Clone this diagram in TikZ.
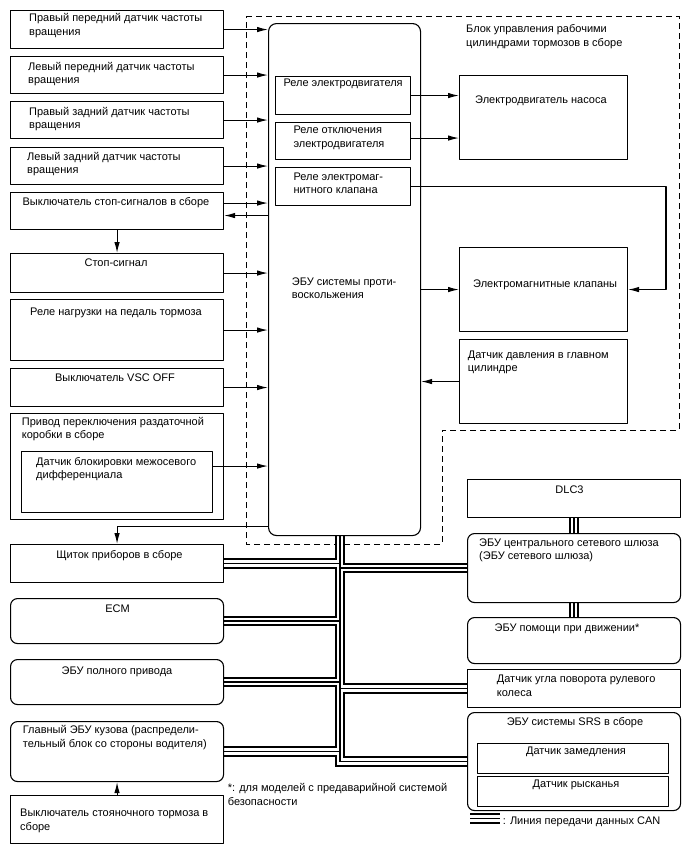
\documentclass[tikz,border=0pt]{standalone}
\usepackage{fontspec}
\setmainfont{Liberation Sans}
\usetikzlibrary{arrows.meta,backgrounds}
\tikzset{
  blk/.style={draw, line width=1.1pt, anchor=north west, inner sep=0pt, minimum width=213pt},
  rblk/.style={blk, rounded corners=7pt},
  lt/.style={anchor=base west, align=left, inner sep=0pt},
  ct/.style={anchor=base, align=center, inner sep=0pt},
  arr/.style={->, line width=1.1pt}
}
\begin{document}
\begin{tikzpicture}[x=1pt, y=-1pt, font=\fontsize{11}{13.3}\selectfont, line join=round, >={Latex[length=11pt,width=5.5pt]}]
\useasboundingbox (0,0) rectangle (688,852);
% left column
\foreach \n/\y/\h in {rf/10/38, lf/56/37, rr/101/37, lr/147/37, sw/192/37, stop/253/39, ped/299/61, vsc/368/38, tf/413/106, dash/544/38, pb/795/48}
  \node[blk, minimum height=\h] (\n) at (10,\y) {};
\foreach \n/\y/\h in {ecm/598/45, awd/659/45, bcm/721/60}
  \node[rblk, minimum height=\h] (\n) at (10,\y) {};
\node[blk, minimum width=191pt, minimum height=61pt] (cdl) at (21,451) {};
% base of multi-line text = its last line
\node[lt] (rf-t) at (29,35) {Правый передний датчик частоты\\вращения};
\node[lt] (lf-t) at (28,83.5) {Левый передний датчик частоты\\вращения};
\node[lt] (rr-t) at (29,128.5) {Правый задний датчик частоты\\вращения};
\node[lt] (lr-t) at (27,173.5) {Левый задний датчик частоты\\вращения};
\node[ct] (sw-t) at (116,205) {Выключатель стоп-сигналов в сборе};
\node[ct] (stop-t) at (116,266.5) {Стоп-сигнал};
\node[ct] (ped-t) at (116,315) {Реле нагрузки на педаль тормоза};
\node[ct] (vsc-t) at (115,381.5) {Выключатель VSC OFF};
\node[lt] (tf-t) at (21.7,438.5) {Привод переключения раздаточной\\коробки в сборе};
\node[lt] (cdl-t) at (36,478.5) {Датчик блокировки межосевого\\дифференциала};
\node[ct] (dash-t) at (119.5,558.5) {Щиток приборов в сборе};
\node[ct] (ecm-t) at (117.5,612) {ECM};
\node[ct] (awd-t) at (117,674) {ЭБУ полного привода};
\node[lt] (bcm-t) at (22.7,747) {Главный ЭБУ кузова (распредели-\\тельный блок со стороны водителя)};
\node[lt] (pb-t) at (20,830) {Выключатель стояночного тормоза в\\сборе};
\node[lt] (note) at (227.7,805) {*: для моделей с предаварийной системой\\безопасности};
% brake actuator
\node[blk, rounded corners=8pt, minimum width=152pt, minimum height=512pt] (ecu) at (268,23) {};
\node[lt] (ecu-t) at (291.7,298.5) {ЭБУ системы проти-\\воскольжения};
\foreach \n/\y/\h in {m1/76/38, m2/122/37, m3/167/38}
  \node[blk, minimum width=135pt, minimum height=\h] (\n) at (275,\y) {};
\node[lt] (m1-t) at (283.3,86) {Реле электродвигателя};
\node[lt] (m2-t) at (293.3,147) {Реле отключения\\электродвигателя};
\node[lt] (m3-t) at (293.3,193.5) {Реле электромаг-\\нитного клапана};
\node[lt] (hcu-t) at (466,46) {Блок управления рабочими\\цилиндрами тормозов в сборе};
\foreach \n/\y in {pump/75, valve/247, ps/339}
  \node[blk, minimum width=168pt, minimum height=84pt] (\n) at (459,\y) {};
\node[lt] (pump-t) at (475,103.5) {Электродвигатель насоса};
\node[lt] (valve-t) at (473,287) {Электромагнитные клапаны};
\node[lt] (ps-t) at (467.7,371.5) {Датчик давления в главном\\цилиндре};
% CAN side
\foreach \n/\y/\h in {dlc/479/38, sas/669/38}
  \node[blk, minimum height=\h] (\n) at (467,\y) {};
\foreach \n/\y/\h in {gw/533/69, dss/617/46, srs/712/98}
  \node[rblk, minimum height=\h] (\n) at (467,\y) {};
\foreach \n/\y in {dec/743, yaw/776}
  \node[blk, minimum width=191pt, minimum height=30pt] (\n) at (477,\y) {};
\node[ct] (dlc-t) at (569.5,493) {DLC3};
\node[lt] (gw-t) at (479,559.5) {ЭБУ центрального сетевого шлюза\\(ЭБУ сетевого шлюза)};
\node[ct] (dss-t) at (567,631) {ЭБУ помощи при движении*};
\node[lt] (sas-t) at (496.7,696) {Датчик угла поворота рулевого\\колеса};
\node[ct] (srs-t) at (575,725) {ЭБУ системы SRS в сборе};
\node[ct] (dec-t) at (576,754) {Датчик замедления};
\node[ct] (yaw-t) at (576,787) {Датчик рысканья};
\node[lt] (can-t) at (502.7,824) {: Линия передачи данных CAN};
\coordinate (bus) at (340,0);
\coordinate (vr) at (666,0);
\coordinate (lg1) at (470,818.5);
\coordinate (lg2) at (500,818.5);
\def\canbus{(ecu.south -| bus) -- (srs.west -| bus) -- (srs.west)
  (dash.east) -- (dash.east -| bus) (ecm.east) -- (ecm.east -| bus)
  (awd.east) -- (awd.east -| bus) (bcm.east) -- (bcm.east -| bus)
  (gw.west -| bus) -- (gw.west) (sas.west -| bus) -- (sas.west)
  (dlc.south) -- (gw.north) (gw.south) -- (dss.north) (lg1) -- (lg2)}
\begin{scope}[on background layer]
  \draw[line width=1pt, dash pattern=on 6pt off 4pt] (246,16) -- (679,16) -- (679,430) -- (442,430) -- (442,544) -- (246,544) -- cycle;
  \foreach \w/\c in {10.5/black, 6.5/white, 1.5/black}
    \draw[line width=\w pt, \c, line join=miter] \canbus;
\end{scope}
% arrows
\foreach \n in {rf,lf,rr,lr,stop,ped,vsc}
  \draw[arr] (\n.east) -- (\n.east -| ecu.west);
\draw[arr] ([yshift=8pt]sw.east) -- ([yshift=8pt]sw.east -| ecu.west);
\draw[arr] ([yshift=-4.5pt]sw.east -| ecu.west) -- ([yshift=-4.5pt]sw.east);
\draw[arr] (sw.south) -- (stop.north);
\draw[arr] ([yshift=16pt]cdl.east) -- ([yshift=16pt]cdl.east -| ecu.west);
\draw[arr] ([yshift=10pt]ecu.south west) -| (dash.north);
\draw[arr] (pb.north) -- (bcm.south);
\draw[arr] (m1.east) -- (m1.east -| pump.west);
\draw[arr] ([yshift=3pt]m2.east) -- ([yshift=3pt]m2.east -| pump.west);
\draw[arr] (m3.east) -| (vr |- valve.east) -- (valve.east);
\draw[arr] (valve.west -| ecu.east) -- (valve.west);
\draw[arr] (ps.west) -- (ps.west -| ecu.east);
\end{tikzpicture}
\end{document}
